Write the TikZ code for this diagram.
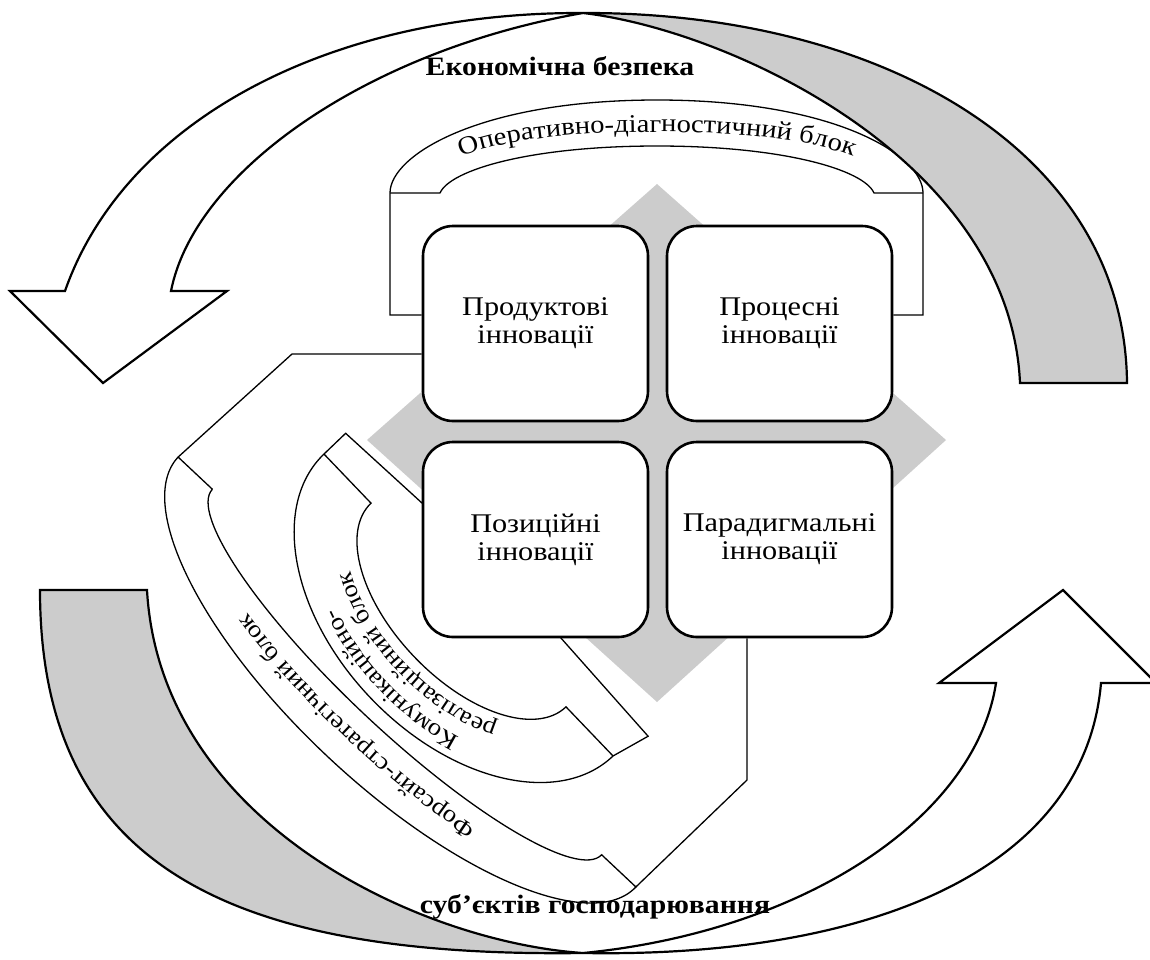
\documentclass[tikz,border=0pt]{standalone}
\usepackage{fontspec}
\setmainfont{Liberation Serif}[FakeStretch=1.12]
\usetikzlibrary{decorations.text}
\definecolor{lgray}{HTML}{CCCCCC}
\pgfdeclarelayer{bg}
\pgfsetlayers{bg,main}
\begin{document}
\begin{tikzpicture}[x=1pt,y=-1pt,
  arrowln/.style={draw=black, line width=2.2pt, line join=miter},
  thinln/.style={draw=black, line width=1.3pt},
  innobox/.style={draw=black, line width=2.6pt, rounded corners=30pt, fill=white,
    minimum width=225pt, minimum height=195pt, align=center, inner sep=0pt,
    font=\fontsize{27}{28}\selectfont},
  titletext/.style={font=\fontsize{26.5}{28}\selectfont\bfseries, inner sep=0pt, anchor=base},
]
\useasboundingbox (0,0) rectangle (1150,959);

% ---------- innovation boxes ----------
\node[innobox] (prod) at (535.5,323.5) {Продуктові\\інновації};
\node[innobox] (proc) at (779.5,323.5) {Процесні\\інновації};
\node[innobox] (pos)  at (535.5,539.5) {Позиційні\\інновації};
\node[innobox] (para) at (779.5,539.5) {Парадигмальні\\інновації};

\begin{pgfonlayer}{bg}
% diamond
\fill[lgray] (657,184) -- (946,440) -- (657,702) -- (367,440) -- cycle;

% ---------- operational-diagnostic block ----------
\draw[thinln] (prod.west |- {(0,315)}) -- (390,315) -- (390,193)
   .. controls (390,155) and (480,100) .. (657,100)
   .. controls (834,100) and (923,155) .. (923,193)
   -- (923,315) -- (proc.east |- {(0,315)});
\draw[thinln] (390,193) -- (440,193) .. controls (450,170) and (530,146) .. (657,146)
   .. controls (784,146) and (864,170) .. (874,193) -- (923,193);
\path[decorate, decoration={text along path, text align=center,
   text={|\fontsize{25.5}{27}\selectfont|Оперативно-діагностичний блок}}]
   (418,200) .. controls (420,160) and (495,132) .. (657,132)
   .. controls (819,132) and (894,160) .. (896,200);

% ---------- foresight-strategic block ----------
\begin{scope}[shift={(407,672)}, x=1pt, y=1pt, rotate=-43.2]
  \coordinate (fsA) at (-314,0);
  \coordinate (fsB) at (314,0);
  \draw[thinln] (-267,0) -- (-314,0)
     arc[start angle=180, end angle=360, x radius=314, y radius=116]
     -- (267,0) arc[start angle=360, end angle=180, x radius=267, y radius=60];
  \path[decorate, decoration={text along path, text align=center,
     text={|\fontsize{24}{26}\selectfont|Форсайт-стратегічний блок}}]
     (286,0) arc[start angle=0, end angle=-180, x radius=286, y radius=79];
\end{scope}
\draw[thinln] (fsA) -- (292,354) -- (prod.west |- {(0,354)});
\draw[thinln] (fsB) -- (747,780) -- (para.south -| {(747,0)});

% ---------- communication-realisation block ----------
\begin{scope}[shift={(468.5,605)}, x=1pt, y=1pt, rotate=-46.25]
  \fill[white] (-60,40) -- (-209,30) -- (-209,0)
     arc[start angle=180, end angle=360, x radius=209, y radius=135]
     -- (219,39) -- (60,45) -- cycle;
  \draw[thinln] (-60,40) -- (-209,30) -- (-209,0)
     arc[start angle=180, end angle=360, x radius=209, y radius=135]
     -- (219,39) -- (60,45);
  \draw[thinln] (-209,0) -- (-141,0)
     arc[start angle=180, end angle=360, x radius=141, y radius=75] -- (209,0);
  \path[decorate, decoration={text along path, text align=center,
     text={|\fontsize{24}{26}\selectfont|Комунікаційно-}}]
     (183,0) arc[start angle=0, end angle=-180, x radius=183, y radius=112];
  \path[decorate, decoration={text along path, text align=center,
     text={|\fontsize{24}{26}\selectfont|реалізаційний блок}}]
     (153,0) arc[start angle=0, end angle=-180, x radius=153, y radius=86];
\end{scope}
\end{pgfonlayer}

% ---------- big curved arrows ----------
% top arrow: white front part with arrowhead, grey back part
\draw[arrowln, fill=white] (65,291) .. controls (125,120) and (330,12) .. (583,13)
   .. controls (370,50) and (195,170) .. (171,291)
   -- (227,291) -- (103,383) -- (10,291) -- cycle;
\draw[arrowln, fill=lgray] (583,13) .. controls (880,12) and (1125,150) .. (1127,383)
   -- (1020,383) .. controls (1010,160) and (730,30) .. (583,13) -- cycle;
% bottom arrow: white front part with arrowhead, grey back part
\draw[arrowln, fill=white] (1101,683) .. controls (1085,870) and (870,958) .. (583,953)
   .. controls (800,932) and (975,820) .. (996,683)
   -- (939,683) -- (1063,590) -- (1156,683) -- cycle;
\draw[arrowln, fill=lgray] (583,953) .. controls (220,958) and (40,860) .. (40,590)
   -- (147,590) .. controls (160,822) and (420,942) .. (583,953) -- cycle;

% ---------- titles ----------
\node[titletext] (t1) at (560,75) {Економічна безпека};
\node[titletext] (t2) at (595,913) {суб’єктів господарювання};
\end{tikzpicture}
\end{document}
